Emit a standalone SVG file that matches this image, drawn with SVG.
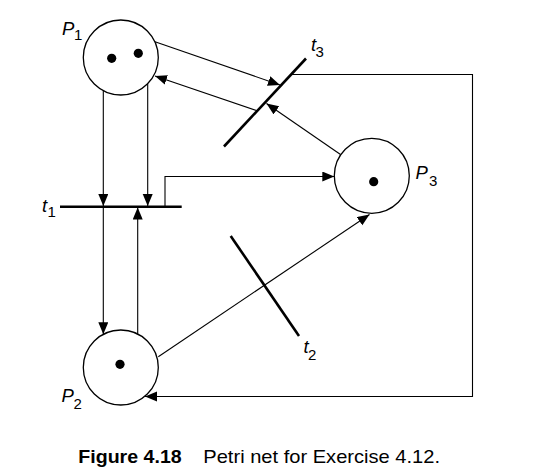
<svg xmlns="http://www.w3.org/2000/svg" width="544" height="474" viewBox="0 0 544 474">
<style>
.place{fill:#fff;stroke:#000;stroke-width:1.3}
.tok{fill:#000}
.bar{stroke:#000;stroke-width:2.6;stroke-linecap:butt}
.arc{fill:none;stroke:#000;stroke-width:1.1}
.lbl{font-family:"Liberation Sans",Arial,sans-serif;font-style:italic;font-size:18.5px;fill:#000}
.sub{font-family:"Liberation Sans",Arial,sans-serif;font-size:15px;fill:#000}
.cap{font-family:"Liberation Sans",Arial,sans-serif;font-size:19px;fill:#000}
</style>
<defs>
<marker id="ah" markerUnits="userSpaceOnUse" markerWidth="13" markerHeight="11" refX="12" refY="5" orient="auto">
<path d="M0,0 L12,5 L0,10 z" fill="#000"/>
</marker>
</defs>
<rect width="544" height="474" fill="#fff"/>
<g id="connectors">
<line class="arc" x1="103.3" y1="90.7" x2="103.3" y2="206" marker-end="url(#ah)"/>
<line class="arc" x1="147.7" y1="83.6" x2="147.7" y2="206" marker-end="url(#ah)"/>
<line class="arc" x1="103.3" y1="207" x2="103.3" y2="334.3" marker-end="url(#ah)"/>
<line class="arc" x1="137.7" y1="334" x2="137.7" y2="207.5" marker-end="url(#ah)"/>
<path class="arc" d="M165,206 V176.5 H334.3" marker-end="url(#ah)"/>
<line class="arc" x1="155" y1="41.7" x2="280" y2="85" marker-end="url(#ah)"/>
<line class="arc" x1="257" y1="110.7" x2="155" y2="76" marker-end="url(#ah)"/>
<line class="arc" x1="340.5" y1="154.5" x2="266.5" y2="103.5" marker-end="url(#ah)"/>
<path class="arc" d="M291,74.5 H472.5 V396.5 H145" marker-end="url(#ah)"/>
<line class="arc" x1="158.3" y1="356.7" x2="369.5" y2="214.5" marker-end="url(#ah)"/>
</g>
<g id="P1">
<circle class="place" cx="120.8" cy="57.5" r="37.5"/>
<circle class="tok" cx="111.7" cy="58.3" r="4.6"/>
<circle class="tok" cx="138.3" cy="53.3" r="4.6"/>
<text class="lbl" x="62" y="34.5">P</text><text class="sub" x="74" y="40">1</text>
</g>
<g id="P2">
<circle class="place" cx="120.8" cy="367.5" r="37.5"/>
<circle class="tok" cx="120" cy="364.3" r="4.6"/>
<text class="lbl" x="61.5" y="401.5">P</text><text class="sub" x="73.5" y="408.5">2</text>
</g>
<g id="P3">
<circle class="place" cx="371.8" cy="175.8" r="37.5"/>
<circle class="tok" cx="373.7" cy="181.7" r="4.6"/>
<text class="lbl" x="415.5" y="178.5">P</text><text class="sub" x="429" y="185.5">3</text>
</g>
<g id="t1">
<line class="bar" x1="60" y1="206.7" x2="181.7" y2="206.7"/>
<text class="lbl" x="42" y="212">t</text><text class="sub" x="47.5" y="216.5">1</text>
</g>
<g id="t2">
<line class="bar" x1="230.7" y1="236" x2="299" y2="336"/>
<text class="lbl" x="303.5" y="353">t</text><text class="sub" x="308" y="359.5">2</text>
</g>
<g id="t3">
<line class="bar" x1="306" y1="58.5" x2="224" y2="146.5"/>
<text class="lbl" x="311" y="51">t</text><text class="sub" x="315.5" y="56.5">3</text>
</g>
<g id="caption">
<text class="cap" x="78.3" y="463" font-weight="bold" textLength="103.4" lengthAdjust="spacingAndGlyphs">Figure 4.18</text>
<text class="cap" x="203.3" y="463" textLength="236.7" lengthAdjust="spacingAndGlyphs">Petri net for Exercise 4.12.</text>
</g>
</svg>
